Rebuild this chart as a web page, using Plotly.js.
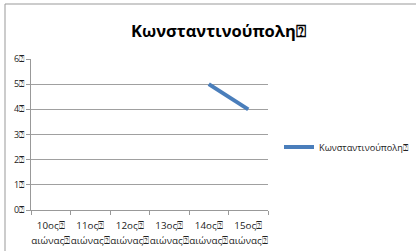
<!DOCTYPE html>
<html><head><meta charset="utf-8">
<script src="https://cdn.plot.ly/plotly-3.0.1.min.js"></script>
<style>body{margin:0;background:#fff}#c{width:416px;height:251px}</style>
</head><body><div id="c"></div>
<script>
const categories = ["10ος⍰<br>αιώνας⍰","11ος⍰<br>αιώνας⍰","12ος⍰<br>αιώνας⍰","13ος⍰<br>αιώνας⍰","14ος⍰<br>αιώνας⍰","15ος⍰<br>αιώνας⍰"];
const values = [null, null, null, null, 5, 4];
const seriesName = "Κωνσταντινούπολη⍰";
const titleText = "Κωνσταντινούπολη⍰";
const yTickVals = [0,1,2,3,4,5,6];
const yTickText = ["0⍰","1⍰","2⍰","3⍰","4⍰","5⍰","6⍰"];

const line1 = categories.map(c => c.split('<br>')[0]);
const line2 = categories.map(c => c.split('<br>')[1]);

const L=31, R=148, T=59, B=41, W=416, H=251;
const pw=W-L-R, ph=H-T-B;
const px = v => (v-L)/pw, py = v => 1-(v-T)/ph;

const labelAxis = (len, text) => ({type:'category', overlaying:'x', side:'bottom', anchor:'y',
  ticks:'outside', ticklen:len, tickcolor:'rgba(0,0,0,0)', tickvals:categories, ticktext:text,
  showline:false, showgrid:false, zeroline:false, tickangle:0, automargin:false,
  tickfont:{size:9.8, color:'#222'}, fixedrange:true, range:[-0.5,5.5]});

Plotly.newPlot('c',[{
  x: categories, y: values, name: seriesName, type:'scatter', mode:'lines',
  line:{color:'#4A7EBB', width:4}, connectgaps:false, showlegend:true
},{
  x: categories, y: values, xaxis:'x2', type:'scatter', mode:'lines',
  line:{width:0}, showlegend:false, hoverinfo:'skip'
},{
  x: categories, y: values, xaxis:'x3', type:'scatter', mode:'lines',
  line:{width:0}, showlegend:false, hoverinfo:'skip'
}],{
  width:W, height:H, margin:{l:L,r:R,t:T,b:B,pad:0,autoexpand:false},
  paper_bgcolor:'#fff', plot_bgcolor:'#fff',
  font:{family:'"Open Sans", "DejaVu Sans", sans-serif', size:10, color:'#222'},
  title:{text:titleText, font:{size:16.5, color:'#000', weight:'bold'}, x:0.525, xanchor:'center', y:1-31/H, yanchor:'middle'},
  xaxis:{type:'category', tickson:'boundaries', ticks:'outside', ticklen:4, tickcolor:'#999',
    showline:true, linecolor:'#999', linewidth:1, showgrid:false, zeroline:false, automargin:false,
    showticklabels:false, fixedrange:true, range:[-0.5,5.5]},
  xaxis2: labelAxis(6, line1),
  xaxis3: labelAxis(21, line2),
  yaxis:{range:[0,6], tickvals:yTickVals, ticktext:yTickText, ticks:'outside', ticklen:4, tickcolor:'#999',
    showline:true, linecolor:'#999', linewidth:1, showgrid:true, gridcolor:'#a0a0a0', gridwidth:1, automargin:false,
    zeroline:false, tickfont:{size:9, color:'#222'}, fixedrange:true},
  legend:{x:px(279), y:py(147), xanchor:'left', yanchor:'middle', font:{size:9.2, color:'#222'}, bgcolor:'rgba(0,0,0,0)', itemwidth:30},
  shapes:[{type:'rect', xref:'paper', yref:'paper', x0:px(5), x1:px(430), y0:py(270), y1:py(4),
    line:{color:'#999', width:1}, fillcolor:'rgba(0,0,0,0)', layer:'below'}]
},{staticPlot:true});
</script></body></html>
